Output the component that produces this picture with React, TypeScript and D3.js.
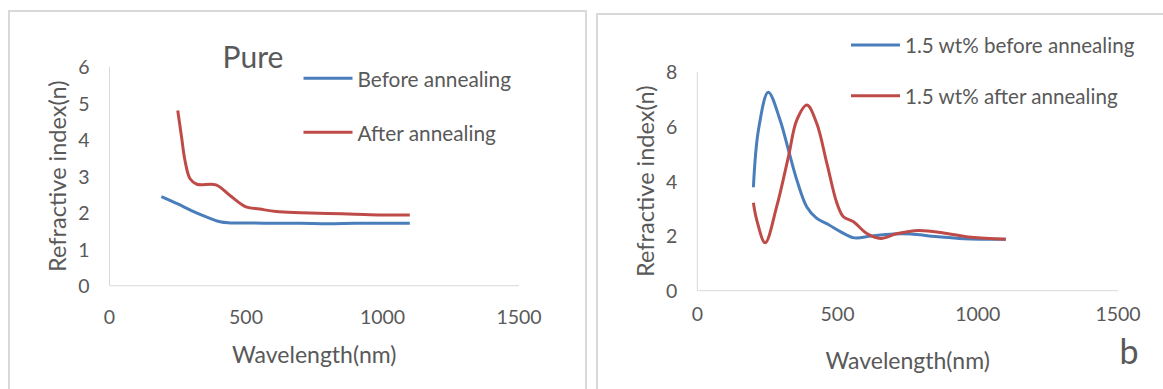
import React from "react";
import * as d3 from "d3";

// wavelength (nm) / refractive index
const pureBeforeX = [190, 250, 300, 350, 405, 440, 500, 600, 700, 800, 900, 1000, 1100];
const pureBeforeY = [2.44, 2.24, 2.06, 1.9, 1.75, 1.72, 1.72, 1.71, 1.71, 1.7, 1.71, 1.71, 1.71];
const pureAfterX = [250, 264, 276, 295, 320, 390, 440, 500, 550, 610, 700, 800, 900, 1000, 1100];
const pureAfterY = [4.8, 4.07, 3.45, 2.93, 2.78, 2.76, 2.48, 2.16, 2.1, 2.03, 2.0, 1.98, 1.96, 1.94, 1.94];

const dopedBeforeX = [200, 218, 253, 295, 325, 355, 390, 425, 470, 510, 560, 620, 700, 760, 850, 950, 1100];
const dopedBeforeY = [3.78, 5.87, 7.25, 6.24, 5.14, 4.04, 3.07, 2.65, 2.4, 2.16, 1.93, 2.0, 2.07, 2.07, 1.98, 1.9, 1.88];
const dopedAfterX = [200, 212, 242, 283, 325, 355, 391, 426, 462, 498, 521, 557, 603, 654, 710, 790, 883, 976, 1100];
const dopedAfterY = [3.21, 2.58, 1.75, 3.07, 4.9, 6.24, 6.78, 6.11, 4.65, 3.19, 2.7, 2.52, 2.1, 1.91, 2.08, 2.2, 2.1, 1.95, 1.88];

const xTicks = [0, 500, 1000, 1500];
const pureYTicks = [0, 1, 2, 3, 4, 5, 6];
const dopedYTicks = [0, 2, 4, 6, 8];

const pureNames = ["Before annealing", "After annealing"];
const dopedNames = ["1.5 wt% before annealing", "1.5 wt% after annealing"];

const BLUE = "#4a7ebb";
const RED = "#be4b48";
const TEXT = "#595959";
const GRID = "#d9d9d9";
const FONT = "Lato, 'Open Sans', sans-serif";

type Series = { name: string; xs: number[]; ys: number[]; color: string };

type PanelProps = {
  frame: [number, number, number, number];
  plot: { left: number; right: number; top: number; bottom: number };
  yMax: number;
  yTicks: number[];
  series: Series[];
  tickLabelDy: number;
  yLabelGap: number;
  yTitleX: number;
  xTitleY: number;
  legend: { x1: number; x2: number; ys: number[]; size: number };
  title?: { text: string; x: number; y: number };
  tag?: { text: string; x: number; y: number };
};

function Panel(p: PanelProps) {
  const x = d3.scaleLinear().domain([0, 1500]).range([p.plot.left, p.plot.right]);
  const y = d3.scaleLinear().domain([0, p.yMax]).range([p.plot.bottom, p.plot.top]);
  const line = d3
    .line<[number, number]>()
    .x((d) => x(d[0]))
    .y((d) => y(d[1]))
    .curve(d3.curveCatmullRom.alpha(0.5));
  const [fx, fy, fw, fh] = p.frame;
  const midX = (p.plot.left + p.plot.right) / 2;
  const midY = (p.plot.top + p.plot.bottom) / 2;

  return (
    <g fontFamily={FONT} fill={TEXT}>
      <rect x={fx} y={fy} width={fw} height={fh} fill="#fff" stroke={GRID} strokeWidth={2} />
      {/* axes */}
      <line x1={p.plot.left} x2={p.plot.left} y1={p.plot.top} y2={p.plot.bottom} stroke={GRID} strokeWidth={1} />
      <line x1={p.plot.left} x2={p.plot.right} y1={p.plot.bottom} y2={p.plot.bottom} stroke={GRID} strokeWidth={1} />
      {xTicks.map((t) => (
        <text key={"x" + t} x={x(t)} y={p.plot.bottom + p.tickLabelDy} textAnchor="middle" dominantBaseline="central" fontSize={19.5}>
          {t}
        </text>
      ))}
      {p.yTicks.map((t) => (
        <text key={"y" + t} x={p.plot.left - p.yLabelGap} y={y(t)} textAnchor="end" dominantBaseline="central" fontSize={19.5}>
          {t}
        </text>
      ))}
      <text x={midX} y={p.xTitleY} textAnchor="middle" dominantBaseline="central" fontSize={23}>
        Wavelength(nm)
      </text>
      <text
        transform={`translate(${p.yTitleX},${midY}) rotate(-90)`}
        textAnchor="middle"
        dominantBaseline="central"
        fontSize={23.5}
      >
        Refractive index(n)
      </text>
      {/* series */}
      {p.series.map((s) => (
        <path
          key={s.name}
          d={line(s.xs.map((v, i) => [v, s.ys[i]] as [number, number])) || ""}
          fill="none"
          stroke={s.color}
          strokeWidth={3}
          strokeLinejoin="round"
        />
      ))}
      {/* legend */}
      {p.series.map((s, i) => (
        <g key={"lg" + s.name}>
          <line x1={p.legend.x1} x2={p.legend.x2} y1={p.legend.ys[i]} y2={p.legend.ys[i]} stroke={s.color} strokeWidth={3} />
          <text x={p.legend.x2 + 5} y={p.legend.ys[i]} dominantBaseline="central" fontSize={p.legend.size}>
            {s.name}
          </text>
        </g>
      ))}
      {p.title && (
        <text x={p.title.x} y={p.title.y} textAnchor="middle" dominantBaseline="central" fontSize={30}>
          {p.title.text}
        </text>
      )}
      {p.tag && (
        <text x={p.tag.x} y={p.tag.y} textAnchor="middle" dominantBaseline="central" fontSize={34}>
          {p.tag.text}
        </text>
      )}
    </g>
  );
}

export default function App() {
  return (
    <svg
      width={1163}
      height={389}
      style={{ position: "absolute", left: 0, top: 0, display: "block", background: "#fff" }}
    >
      <Panel
        frame={[9, 11, 577, 400]}
        plot={{ left: 109.5, right: 519, top: 66.7, bottom: 285.7 }}
        yMax={6}
        yTicks={pureYTicks}
        series={[
          { name: pureNames[0], xs: pureBeforeX, ys: pureBeforeY, color: BLUE },
          { name: pureNames[1], xs: pureAfterX, ys: pureAfterY, color: RED },
        ]}
        tickLabelDy={31}
        yLabelGap={20}
        yTitleX={57}
        xTitleY={354}
        legend={{ x1: 303.5, x2: 352.5, ys: [78.3, 132.3], size: 20.8 }}
        title={{ text: "Pure", x: 253, y: 56 }}
      />
      <Panel
        frame={[597, 14, 600, 400]}
        plot={{ left: 697.3, right: 1118, top: 71.7, bottom: 290.7 }}
        yMax={8}
        yTicks={dopedYTicks}
        series={[
          { name: dopedNames[0], xs: dopedBeforeX, ys: dopedBeforeY, color: BLUE },
          { name: dopedNames[1], xs: dopedAfterX, ys: dopedAfterY, color: RED },
        ]}
        tickLabelDy={22.6}
        yLabelGap={20}
        yTitleX={644.7}
        xTitleY={360}
        legend={{ x1: 851, x2: 900, ys: [45, 95.7], size: 20.6 }}
        tag={{ text: "b", x: 1129, y: 350 }}
      />
    </svg>
  );
}
